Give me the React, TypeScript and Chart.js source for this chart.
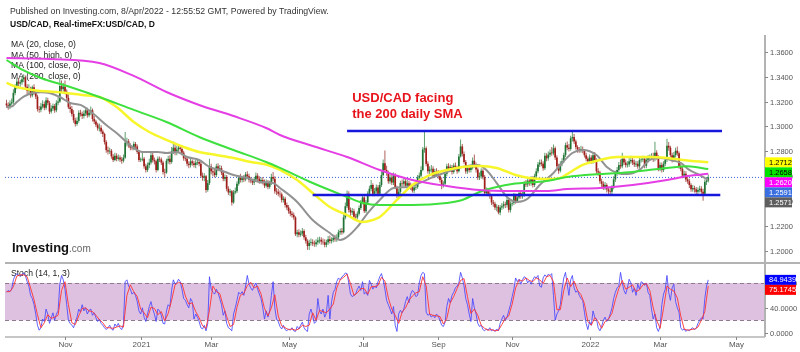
import React, { useEffect, useRef } from "react";
import { Chart, registerables } from "chart.js";

Chart.register(...registerables);

// ---------- DATA (daily sessions, index 0 = 15 Sep 2020) ----------
const opens = [
1.3185,1.3170,1.3160,1.3185,1.3195,1.3270,1.3325,1.3360,1.3345,1.3355,
1.3380,1.3395,1.3320,1.3285,1.3300,1.3250,1.3315,1.3275,1.3240,1.3140,
1.3135,1.3160,1.3180,1.3150,1.3210,1.3190,1.3120,1.3145,1.3165,1.3130,
1.3190,1.3200,1.3325,1.3300,1.3320,1.3280,1.3230,1.3155,1.3140,1.3100,
1.3050,1.3020,1.3045,1.3110,1.3100,1.3085,1.3105,1.3130,1.3090,1.3110,
1.3130,1.3060,1.3040,1.3015,1.2985,1.2990,1.2960,1.2940,1.2875,1.2810,
1.2800,1.2805,1.2760,1.2730,1.2765,1.2740,1.2750,1.2735,1.2725,1.2750,
1.2870,1.2880,1.2850,1.2830,1.2825,1.2860,1.2840,1.2795,1.2730,1.2735,
1.2740,1.2680,1.2650,1.2690,1.2710,1.2770,1.2730,1.2720,1.2650,1.2740,
1.2735,1.2710,1.2635,1.2630,1.2725,1.2740,1.2715,1.2800,1.2830,1.2795,
1.2815,1.2830,1.2820,1.2790,1.2745,1.2740,1.2700,1.2690,1.2720,1.2705,
1.2690,1.2710,1.2715,1.2700,1.2605,1.2590,1.2600,1.2490,1.2545,1.2680,
1.2640,1.2630,1.2610,1.2680,1.2660,1.2665,1.2630,1.2580,1.2595,1.2500,
1.2470,1.2480,1.2390,1.2470,1.2480,1.2540,1.2590,1.2570,1.2585,1.2575,
1.2615,1.2600,1.2570,1.2565,1.2550,1.2575,1.2605,1.2580,1.2560,1.2570,
1.2555,1.2525,1.2555,1.2515,1.2545,1.2595,1.2580,1.2480,1.2475,1.2460,
1.2455,1.2410,1.2420,1.2370,1.2350,1.2320,1.2300,1.2290,1.2270,1.2135,
1.2150,1.2130,1.2140,1.2160,1.2110,1.2080,1.2040,1.2065,1.2070,1.2060,
1.2055,1.2070,1.2085,1.2090,1.2075,1.2070,1.2050,1.2070,1.2095,1.2080,
1.2090,1.2105,1.2095,1.2110,1.2150,1.2160,1.2150,1.2270,1.2360,1.2460,
1.2330,1.2310,1.2320,1.2275,1.2270,1.2300,1.2345,1.2395,1.2430,1.2320,
1.2390,1.2460,1.2500,1.2530,1.2460,1.2480,1.2510,1.2460,1.2530,1.2610,
1.2705,1.2650,1.2630,1.2560,1.2590,1.2550,1.2610,1.2510,1.2450,1.2475,
1.2545,1.2540,1.2560,1.2525,1.2545,1.2525,1.2510,1.2485,1.2510,1.2515,
1.2590,1.2605,1.2650,1.2815,1.2825,1.2700,1.2640,1.2655,1.2660,1.2605,
1.2640,1.2620,1.2600,1.2570,1.2530,1.2540,1.2620,1.2680,1.2660,1.2675,
1.2635,1.2685,1.2670,1.2640,1.2760,1.2840,1.2780,1.2715,1.2640,1.2665,
1.2650,1.2670,1.2725,1.2690,1.2655,1.2590,1.2600,1.2645,1.2595,1.2465,
1.2485,1.2460,1.2440,1.2390,1.2380,1.2350,1.2355,1.2310,1.2350,1.2360,
1.2375,1.2370,1.2410,1.2330,1.2380,1.2385,1.2445,1.2400,1.2430,1.2465,
1.2440,1.2450,1.2540,1.2535,1.2565,1.2545,1.2580,1.2530,1.2600,1.2640,
1.2695,1.2710,1.2700,1.2665,1.2765,1.2745,1.2775,1.2790,1.2785,1.2825,
1.2750,1.2680,1.2645,1.2700,1.2720,1.2770,1.2850,1.2830,1.2820,1.2905,
1.2915,1.2880,1.2835,1.2815,1.2810,1.2820,1.2805,1.2770,1.2740,1.2720,
1.2750,1.2720,1.2770,1.2730,1.2640,1.2630,1.2560,1.2540,1.2510,1.2530,
1.2495,1.2480,1.2475,1.2510,1.2575,1.2625,1.2650,1.2690,1.2680,1.2740,
1.2710,1.2690,1.2695,1.2720,1.2730,1.2710,1.2695,1.2700,1.2680,1.2730,
1.2735,1.2740,1.2685,1.2730,1.2745,1.2750,1.2760,1.2740,1.2790,1.2755,
1.2665,1.2690,1.2650,1.2700,1.2730,1.2845,1.2830,1.2770,1.2730,1.2770,
1.2805,1.2785,1.2680,1.2660,1.2605,1.2620,1.2575,1.2560,1.2530,1.2495,
1.2505,1.2495,1.2475,1.2490,1.2500,1.2475,1.2460,1.2555,1.2565
];

const highs = [
1.3215,1.3195,1.3210,1.3225,1.3300,1.3340,1.3385,1.3390,1.3375,1.3400,
1.3420,1.3410,1.3340,1.3340,1.3320,1.3330,1.3340,1.3290,1.3255,1.3165,
1.3190,1.3210,1.3200,1.3235,1.3230,1.3205,1.3170,1.3185,1.3180,1.3210,
1.3240,1.3390,1.3370,1.3350,1.3370,1.3300,1.3260,1.3180,1.3165,1.3130,
1.3070,1.3075,1.3130,1.3135,1.3120,1.3130,1.3155,1.3150,1.3135,1.3160,
1.3145,1.3085,1.3055,1.3030,1.3025,1.3010,1.2975,1.2950,1.2890,1.2840,
1.2830,1.2820,1.2780,1.2790,1.2785,1.2775,1.2770,1.2755,1.2775,1.2955,
1.2910,1.2900,1.2865,1.2845,1.2880,1.2875,1.2855,1.2810,1.2750,1.2800,
1.2755,1.2700,1.2710,1.2740,1.2795,1.2790,1.2750,1.2735,1.2760,1.2760,
1.2750,1.2725,1.2660,1.2740,1.2765,1.2770,1.2835,1.2880,1.2870,1.2845,
1.2860,1.2850,1.2840,1.2805,1.2770,1.2760,1.2720,1.2740,1.2735,1.2725,
1.2730,1.2740,1.2735,1.2715,1.2630,1.2625,1.2610,1.2570,1.2740,1.2700,
1.2665,1.2660,1.2700,1.2705,1.2690,1.2685,1.2645,1.2615,1.2610,1.2520,
1.2500,1.2490,1.2490,1.2510,1.2560,1.2610,1.2620,1.2605,1.2610,1.2635,
1.2640,1.2620,1.2595,1.2580,1.2595,1.2630,1.2625,1.2600,1.2590,1.2595,
1.2575,1.2575,1.2570,1.2565,1.2620,1.2635,1.2600,1.2505,1.2500,1.2485,
1.2470,1.2440,1.2435,1.2390,1.2370,1.2340,1.2320,1.2310,1.2280,1.2170,
1.2175,1.2165,1.2185,1.2175,1.2130,1.2095,1.2090,1.2100,1.2095,1.2085,
1.2095,1.2110,1.2115,1.2110,1.2100,1.2095,1.2090,1.2120,1.2125,1.2110,
1.2130,1.2130,1.2135,1.2170,1.2180,1.2185,1.2295,1.2390,1.2485,1.2480,
1.2350,1.2345,1.2340,1.2300,1.2320,1.2365,1.2410,1.2450,1.2440,1.2410,
1.2480,1.2525,1.2570,1.2545,1.2505,1.2535,1.2530,1.2555,1.2640,1.2735,
1.2808,1.2685,1.2645,1.2615,1.2610,1.2630,1.2625,1.2525,1.2500,1.2565,
1.2575,1.2585,1.2580,1.2570,1.2565,1.2550,1.2530,1.2530,1.2540,1.2610,
1.2630,1.2680,1.2835,1.2964,1.2840,1.2720,1.2680,1.2690,1.2680,1.2660,
1.2665,1.2650,1.2620,1.2590,1.2560,1.2640,1.2700,1.2705,1.2695,1.2690,
1.2705,1.2710,1.2685,1.2780,1.2896,1.2860,1.2800,1.2730,1.2690,1.2690,
1.2695,1.2750,1.2775,1.2710,1.2670,1.2630,1.2665,1.2660,1.2610,1.2510,
1.2505,1.2480,1.2455,1.2410,1.2395,1.2375,1.2370,1.2370,1.2385,1.2400,
1.2395,1.2430,1.2425,1.2400,1.2410,1.2465,1.2460,1.2455,1.2490,1.2485,
1.2475,1.2560,1.2570,1.2590,1.2585,1.2600,1.2600,1.2620,1.2665,1.2715,
1.2735,1.2735,1.2720,1.2790,1.2785,1.2800,1.2815,1.2835,1.2855,1.2840,
1.2770,1.2700,1.2720,1.2745,1.2790,1.2870,1.2880,1.2860,1.2925,1.2964,
1.2940,1.2895,1.2850,1.2835,1.2845,1.2840,1.2820,1.2790,1.2760,1.2775,
1.2770,1.2795,1.2795,1.2745,1.2665,1.2645,1.2580,1.2560,1.2555,1.2545,
1.2515,1.2505,1.2530,1.2600,1.2645,1.2675,1.2715,1.2735,1.2790,1.2760,
1.2735,1.2720,1.2745,1.2765,1.2750,1.2735,1.2725,1.2720,1.2755,1.2760,
1.2765,1.2755,1.2750,1.2770,1.2775,1.2785,1.2790,1.2878,1.2810,1.2770,
1.2710,1.2710,1.2720,1.2755,1.2901,1.2875,1.2845,1.2790,1.2795,1.2830,
1.2840,1.2800,1.2700,1.2675,1.2645,1.2640,1.2600,1.2580,1.2545,1.2530,
1.2525,1.2515,1.2510,1.2525,1.2520,1.2500,1.2575,1.2595,1.2615
];

const lows = [
1.3150,1.3135,1.3140,1.3170,1.3180,1.3250,1.3300,1.3320,1.3320,1.3335,
1.3355,1.3300,1.3260,1.3260,1.3230,1.3235,1.3255,1.3220,1.3120,1.3110,
1.3115,1.3145,1.3130,1.3135,1.3170,1.3100,1.3105,1.3125,1.3110,1.3115,
1.3170,1.3190,1.3270,1.3280,1.3260,1.3200,1.3140,1.3110,1.3080,1.3030,
1.3000,1.3005,1.3030,1.3080,1.3060,1.3065,1.3085,1.3070,1.3075,1.3090,
1.3040,1.3020,1.2995,1.2965,1.2960,1.2940,1.2915,1.2855,1.2790,1.2775,
1.2780,1.2740,1.2715,1.2720,1.2720,1.2725,1.2715,1.2700,1.2710,1.2740,
1.2840,1.2830,1.2810,1.2810,1.2810,1.2820,1.2780,1.2715,1.2715,1.2720,
1.2660,1.2630,1.2635,1.2665,1.2695,1.2710,1.2695,1.2630,1.2640,1.2715,
1.2690,1.2615,1.2590,1.2620,1.2700,1.2695,1.2700,1.2780,1.2770,1.2770,
1.2795,1.2800,1.2770,1.2725,1.2720,1.2680,1.2665,1.2670,1.2685,1.2670,
1.2665,1.2690,1.2680,1.2590,1.2565,1.2560,1.2468,1.2475,1.2530,1.2615,
1.2600,1.2590,1.2595,1.2640,1.2640,1.2610,1.2560,1.2560,1.2480,1.2450,
1.2440,1.2365,1.2380,1.2455,1.2465,1.2525,1.2550,1.2550,1.2555,1.2560,
1.2580,1.2550,1.2545,1.2530,1.2530,1.2555,1.2560,1.2540,1.2540,1.2535,
1.2505,1.2510,1.2495,1.2500,1.2530,1.2560,1.2460,1.2450,1.2440,1.2430,
1.2390,1.2390,1.2350,1.2330,1.2300,1.2280,1.2270,1.2250,1.2120,1.2110,
1.2110,1.2115,1.2120,1.2090,1.2060,1.2010,1.2008,1.2045,1.2040,1.2035,
1.2035,1.2050,1.2060,1.2050,1.2050,1.2030,1.2030,1.2050,1.2060,1.2060,
1.2070,1.2075,1.2075,1.2095,1.2130,1.2130,1.2140,1.2255,1.2345,1.2310,
1.2280,1.2290,1.2255,1.2250,1.2255,1.2285,1.2330,1.2375,1.2305,1.2305,
1.2375,1.2440,1.2480,1.2440,1.2440,1.2460,1.2440,1.2450,1.2515,1.2600,
1.2630,1.2605,1.2540,1.2540,1.2530,1.2530,1.2495,1.2425,1.2420,1.2460,
1.2520,1.2520,1.2505,1.2500,1.2505,1.2490,1.2470,1.2465,1.2490,1.2500,
1.2570,1.2590,1.2640,1.2790,1.2680,1.2620,1.2610,1.2630,1.2585,1.2590,
1.2600,1.2580,1.2550,1.2495,1.2510,1.2525,1.2600,1.2640,1.2640,1.2615,
1.2620,1.2650,1.2620,1.2630,1.2750,1.2760,1.2700,1.2620,1.2620,1.2630,
1.2630,1.2655,1.2670,1.2630,1.2570,1.2570,1.2580,1.2575,1.2450,1.2445,
1.2440,1.2420,1.2370,1.2355,1.2330,1.2320,1.2295,1.2288,1.2330,1.2340,
1.2345,1.2350,1.2310,1.2310,1.2360,1.2370,1.2380,1.2385,1.2415,1.2420,
1.2420,1.2435,1.2515,1.2515,1.2525,1.2525,1.2510,1.2515,1.2585,1.2625,
1.2675,1.2680,1.2645,1.2650,1.2720,1.2725,1.2755,1.2765,1.2770,1.2730,
1.2660,1.2620,1.2630,1.2680,1.2705,1.2755,1.2810,1.2800,1.2805,1.2880,
1.2860,1.2815,1.2790,1.2790,1.2790,1.2785,1.2750,1.2720,1.2700,1.2700,
1.2700,1.2700,1.2710,1.2620,1.2605,1.2540,1.2515,1.2490,1.2490,1.2470,
1.2450,1.2450,1.2455,1.2495,1.2555,1.2605,1.2630,1.2660,1.2665,1.2690,
1.2670,1.2670,1.2675,1.2700,1.2690,1.2675,1.2675,1.2660,1.2660,1.2710,
1.2715,1.2665,1.2665,1.2710,1.2725,1.2730,1.2715,1.2720,1.2735,1.2640,
1.2640,1.2630,1.2635,1.2680,1.2715,1.2805,1.2750,1.2710,1.2715,1.2750,
1.2765,1.2660,1.2640,1.2585,1.2585,1.2555,1.2540,1.2505,1.2475,1.2475,
1.2470,1.2455,1.2455,1.2470,1.2455,1.2403,1.2445,1.2530,1.2550
];

const closes = [
1.3170,1.3160,1.3185,1.3195,1.3270,1.3325,1.3360,1.3345,1.3355,1.3380,
1.3395,1.3320,1.3285,1.3300,1.3250,1.3315,1.3275,1.3240,1.3140,1.3135,
1.3160,1.3180,1.3150,1.3210,1.3190,1.3120,1.3145,1.3165,1.3130,1.3190,
1.3200,1.3325,1.3300,1.3320,1.3280,1.3230,1.3155,1.3140,1.3100,1.3050,
1.3020,1.3045,1.3110,1.3100,1.3085,1.3105,1.3130,1.3090,1.3110,1.3130,
1.3060,1.3040,1.3015,1.2985,1.2990,1.2960,1.2940,1.2875,1.2810,1.2800,
1.2805,1.2760,1.2730,1.2765,1.2740,1.2750,1.2735,1.2725,1.2750,1.2870,
1.2880,1.2850,1.2830,1.2825,1.2860,1.2840,1.2795,1.2730,1.2735,1.2740,
1.2680,1.2650,1.2690,1.2710,1.2770,1.2730,1.2720,1.2650,1.2740,1.2735,
1.2710,1.2635,1.2630,1.2725,1.2740,1.2715,1.2800,1.2830,1.2795,1.2815,
1.2830,1.2820,1.2790,1.2745,1.2740,1.2700,1.2690,1.2720,1.2705,1.2690,
1.2710,1.2715,1.2700,1.2605,1.2590,1.2600,1.2490,1.2545,1.2680,1.2640,
1.2630,1.2610,1.2680,1.2660,1.2665,1.2630,1.2580,1.2595,1.2500,1.2470,
1.2480,1.2390,1.2470,1.2480,1.2540,1.2590,1.2570,1.2585,1.2575,1.2615,
1.2600,1.2570,1.2565,1.2550,1.2575,1.2605,1.2580,1.2560,1.2570,1.2555,
1.2525,1.2555,1.2515,1.2545,1.2595,1.2580,1.2480,1.2475,1.2460,1.2455,
1.2410,1.2420,1.2370,1.2350,1.2320,1.2300,1.2290,1.2270,1.2135,1.2150,
1.2130,1.2140,1.2160,1.2110,1.2080,1.2040,1.2065,1.2070,1.2060,1.2055,
1.2070,1.2085,1.2090,1.2075,1.2070,1.2050,1.2070,1.2095,1.2080,1.2090,
1.2105,1.2095,1.2110,1.2150,1.2160,1.2150,1.2270,1.2360,1.2460,1.2330,
1.2310,1.2320,1.2275,1.2270,1.2300,1.2345,1.2395,1.2430,1.2320,1.2390,
1.2460,1.2500,1.2530,1.2460,1.2480,1.2510,1.2460,1.2530,1.2610,1.2705,
1.2650,1.2630,1.2560,1.2590,1.2550,1.2610,1.2510,1.2450,1.2475,1.2545,
1.2540,1.2560,1.2525,1.2545,1.2525,1.2510,1.2485,1.2510,1.2515,1.2590,
1.2605,1.2650,1.2815,1.2825,1.2700,1.2640,1.2655,1.2660,1.2605,1.2640,
1.2620,1.2600,1.2570,1.2530,1.2540,1.2620,1.2680,1.2660,1.2675,1.2635,
1.2685,1.2670,1.2640,1.2760,1.2840,1.2780,1.2715,1.2640,1.2665,1.2650,
1.2670,1.2725,1.2690,1.2655,1.2590,1.2600,1.2645,1.2595,1.2465,1.2485,
1.2460,1.2440,1.2390,1.2380,1.2350,1.2355,1.2310,1.2350,1.2360,1.2375,
1.2370,1.2410,1.2330,1.2380,1.2385,1.2445,1.2400,1.2430,1.2465,1.2440,
1.2450,1.2540,1.2535,1.2565,1.2545,1.2580,1.2530,1.2600,1.2640,1.2695,
1.2710,1.2700,1.2665,1.2765,1.2745,1.2775,1.2790,1.2785,1.2825,1.2750,
1.2680,1.2645,1.2700,1.2720,1.2770,1.2850,1.2830,1.2820,1.2905,1.2915,
1.2880,1.2835,1.2815,1.2810,1.2820,1.2805,1.2770,1.2740,1.2720,1.2750,
1.2720,1.2770,1.2730,1.2640,1.2630,1.2560,1.2540,1.2510,1.2530,1.2495,
1.2480,1.2475,1.2510,1.2575,1.2625,1.2650,1.2690,1.2680,1.2740,1.2710,
1.2690,1.2695,1.2720,1.2730,1.2710,1.2695,1.2700,1.2680,1.2730,1.2735,
1.2740,1.2685,1.2730,1.2745,1.2750,1.2760,1.2740,1.2790,1.2755,1.2665,
1.2690,1.2650,1.2700,1.2730,1.2845,1.2830,1.2770,1.2730,1.2770,1.2805,
1.2785,1.2680,1.2660,1.2605,1.2620,1.2575,1.2560,1.2530,1.2495,1.2505,
1.2495,1.2475,1.2490,1.2500,1.2475,1.2460,1.2555,1.2565,1.2591
];

// moving averages as [session, value]
const ma20: [number, number][] = [
[0,1.3157],[3,1.3160],[6,1.3197],[10,1.3240],[15,1.3269],[20,1.3275],[25,1.3269],[31,1.3237],[37,1.3189],[43,1.3173],
[50,1.3108],[58,1.3012],[64,1.2948],[74,1.2827],[79,1.2795],[88,1.2795],[93,1.2787],[99,1.2795],[105,1.2755],[112,1.2731],
[118,1.2675],[124,1.2651],[132,1.2610],[140,1.2586],[147,1.2554],[155,1.2546],[159,1.2506],[169,1.2394],[178,1.2249],[188,1.2145],
[194,1.2088],[198,1.2112],[204,1.2193],[210,1.2305],[217,1.2410],[225,1.2506],[233,1.2514],[240,1.2546],[248,1.2594],[256,1.2635],
[265,1.2675],[274,1.2691],[279,1.2651],[285,1.2546],[291,1.2434],[297,1.2394],[303,1.2420],[310,1.2530],[318,1.2627],[322,1.2691],
[329,1.2787],[335,1.2811],[343,1.2771],[349,1.2675],[355,1.2627],[361,1.2618],[368,1.2651],[374,1.2731],[380,1.2747],[386,1.2731],
[392,1.2707],[397,1.2651],[403,1.2610],[408,1.2571]
];
const ma50High: [number, number][] = [
[0,1.3350],[6,1.3317],[15,1.3293],[35,1.3269],[44,1.3253],[54,1.3237],[64,1.3157],[74,1.3036],[83,1.2956],[93,1.2892],
[103,1.2835],[112,1.2795],[122,1.2771],[132,1.2747],[142,1.2715],[152,1.2691],[159,1.2651],[169,1.2570],[178,1.2466],[188,1.2353],
[198,1.2289],[207,1.2233],[213,1.2249],[217,1.2273],[227,1.2410],[236,1.2530],[246,1.2610],[256,1.2651],[265,1.2675],[275,1.2683],
[285,1.2667],[296,1.2610],[304,1.2586],[314,1.2578],[322,1.2586],[326,1.2618],[335,1.2691],[345,1.2731],[355,1.2755],[364,1.2755],
[374,1.2755],[384,1.2747],[393,1.2731],[408,1.2712]
];
const ma100: [number, number][] = [
[0,1.3534],[10,1.3450],[20,1.3390],[37,1.3317],[54,1.3237],[74,1.3133],[93,1.3036],[112,1.2916],[132,1.2811],[151,1.2715],
[159,1.2667],[178,1.2546],[198,1.2434],[207,1.2386],[217,1.2369],[236,1.2369],[256,1.2386],[265,1.2410],[275,1.2474],[285,1.2514],
[294,1.2538],[314,1.2562],[326,1.2594],[345,1.2618],[364,1.2635],[384,1.2667],[396,1.2680],[408,1.2658]
];
const ma200: [number, number][] = [
[0,1.3550],[25,1.3542],[54,1.3510],[74,1.3406],[93,1.3277],[112,1.3173],[132,1.3084],[151,1.2988],[159,1.2932],[178,1.2843],
[198,1.2755],[217,1.2651],[236,1.2570],[256,1.2522],[275,1.2490],[294,1.2482],[314,1.2482],[326,1.2498],[345,1.2506],[364,1.2530],
[384,1.2570],[396,1.2602],[408,1.2620]
];

// Stochastic (14,1,3): %K per session, %D every 2nd session
const stochK = [
65,68,66,70,85,92,95,93,90,94, 96,92,82,75,60,55,45,30,12,4,
8,22,18,38,30,15,24,32,20,30, 35,78,92,85,70,45,20,15,12,8,
18,25,38,33,45,35,40,30,36,38, 28,32,24,18,22,15,12,8,5,8,
12,6,4,14,10,15,8,5,14,82, 85,75,70,62,65,60,50,35,30,40,
25,18,30,42,50,38,30,18,38,35, 28,15,14,35,45,42,68,85,78,80,
86,82,70,55,52,45,40,55,50,22, 30,25,18,8,6,12,3,15,90,70,
65,62,70,64,55,45,28,35,15,8, 6,3,30,40,52,65,62,66,60,75,
92,78,72,68,75,80,70,62,55,40, 22,35,25,35,60,82,40,22,18,10,
6,12,5,3,6,4,8,3,2,10, 6,12,17,8,4,2,30,38,28,15,
18,55,35,30,38,25,32,60,22,50, 65,70,82,88,85,90,92,96,95,80,
62,58,60,62,70,75,68,82,62,65, 60,84,78,70,75,72,82,90,95,85,
70,52,45,38,30,42,12,2,30,36, 32,38,50,58,48,62,68,65,58,60,
80,92,97,95,33,28,30,25,28,24, 30,27,20,12,10,17,42,55,48,60,
65,72,75,80,97,88,75,55,45,30, 18,55,40,30,15,10,12,5,3,6,
4,8,3,5,2,6,3,15,22,28, 20,25,35,45,58,70,88,82,86,78,
85,90,88,80,84,78,85,90,88,92, 75,73,88,93,90,94,92,95,60,20,
30,35,45,70,88,97,78,60,85,92, 72,65,68,60,55,52,33,15,5,18,
12,35,25,22,8,3,10,20,25,18, 22,30,40,55,65,72,75,97,80,68,
62,72,86,80,65,72,60,78,70,82, 80,76,80,65,60,38,22,30,8,2,
10,45,62,70,92,65,52,72,78,50, 40,33,8,4,6,2,5,3,6,8,
5,7,15,20,24,22,55,75,84.9439
];
const stochD = [
66,66,74,91,93,93,90,72,53,29, 8,16,29,23,25,28,68,82,45,16,
13,27,39,40,35,34,28,21,16,8, 8,7,9,11,9,60,77,66,58,38,
32,24,41,39,29,34,19,31,52,77, 81,79,59,46,48,34,24,11,7,36,
75,66,63,43,26,10,13,41,60,63, 76,81,72,75,62,39,27,40,61,27,
11,8,5,6,4,6,12,10,12,32, 20,36,34,32,38,46,72,85,89,94,
79,60,64,71,71,62,74,74,76,89, 83,56,38,28,15,33,40,52,59,64,
66,90,75,30,28,27,26,14,23,48, 58,71,84,87,58,31,38,28,12,7,
4,5,3,4,13,23,27,46,72,85, 83,88,84,82,88,85,79,90,92,82,
37,37,68,88,74,83,68,61,47,18, 12,24,18,7,18,22,31,53,71,84,
70,73,77,66,69,77,79,68,40,20, 7,39,75,70,67,56,27,6,4,5,
6,9,20,34,75.1745
];
const stochDStep = 2;

// horizontal drawings: [fromSession, toSession, price]
const resistanceLine = [198, 416, 1.2964];
const supportLine = [178, 415, 1.2450];
const lastClose = 1.2591;

// axes
const priceTicks = [1.20, 1.22, 1.24, 1.26, 1.28, 1.30, 1.32, 1.34, 1.36];
const stochTicks = [0, 40, 80];
const stochBand = [20, 80];
const monthTickSessions = [34, 78, 119, 164, 207, 251, 294, 339, 380, 424];
const monthLabels = ["Nov", "2021", "Mar", "May", "Jul", "Sep", "Nov", "2022", "Mar", "May"];

const priceBadges = [
  { value: 1.2712, bg: "#ffff00", fg: "#000000" },
  { value: 1.2658, bg: "#00e400", fg: "#000000" },
  { value: 1.2620, bg: "#ff00ff", fg: "#ffffff" },
  { value: 1.2591, bg: "#3a6fe0", fg: "#ffffff" },
  { value: 1.2571, bg: "#5e5e5e", fg: "#ffffff" },
];
const stochBadges = [
  { value: 84.9439, bg: "#0000ff", fg: "#ffffff" },
  { value: 75.1745, bg: "#ff0000", fg: "#ffffff" },
];

const headerLine = "Published on Investing.com, 8/Apr/2022 - 12:55:52 GMT, Powered by TradingView.";
const titleLine = "USD/CAD, Real-timeFX:USD/CAD, D";
const maLegend = ["MA (20, close, 0)", "MA (50, high, 0)", "MA (100, close, 0)", "MA (200, close, 0)"];
const stochLegend = "Stoch (14, 1, 3)";
const noteLines = ["USD/CAD facing", "the 200 daily SMA"];
const noteAnchor = { session: 201, prices: [1.3197, 1.3072] };

// ---------- CHART ----------
const FONT = '"Liberation Sans", Arial, Helvetica, sans-serif';
const UP = "#1f7334";
const DOWN = "#a01e1a";
const UP_WICK = "#5f9f6e";
const DOWN_WICK = "#b0625e";

const X_MIN = -0.872;
const X_MAX = 440.99;
const PRICE_MIN = 1.13092;
const PRICE_MAX = 1.37349;
const STOCH_MIN = -6.91;
const STOCH_MAX = 478.6;
const PANEL_SPLIT = 112.5; // stoch-scale value where the price pane ends

const overlay = {
  id: "overlay",
  beforeDraw(chart: any) {
    const ctx = chart.ctx;
    ctx.save();
    ctx.fillStyle = "#ffffff";
    ctx.fillRect(0, 0, chart.width, chart.height);
    ctx.restore();
  },
  beforeDatasetsDraw(chart: any) {
    const { ctx, chartArea } = chart;
    const ys = chart.scales.y2;
    const top = ys.getPixelForValue(stochBand[1]);
    const bot = ys.getPixelForValue(stochBand[0]);
    ctx.save();
    ctx.fillStyle = "rgb(222,193,224)";
    ctx.fillRect(chartArea.left, top, chartArea.right - chartArea.left, bot - top);
    ctx.strokeStyle = "#8e7c8e";
    ctx.lineWidth = 1;
    ctx.setLineDash([4, 3]);
    [top, bot].forEach((y) => {
      const yy = Math.round(y) + 0.5;
      ctx.beginPath();
      ctx.moveTo(chartArea.left, yy);
      ctx.lineTo(chartArea.right, yy);
      ctx.stroke();
    });
    ctx.setLineDash([]);

    ctx.textAlign = "left";
    ctx.textBaseline = "alphabetic";
    ctx.fillStyle = "#333333";
    ctx.font = `8.7px ${FONT}`;
    ctx.fillText(headerLine, 10, 14);
    ctx.fillStyle = "#111111";
    ctx.font = `bold 8.5px ${FONT}`;
    ctx.fillText(titleLine, 10, 27);
    ctx.font = `8.6px ${FONT}`;
    ctx.fillStyle = "#222222";
    maLegend.forEach((t, i) => ctx.fillText(t, 11, 47 + i * 10.5));
    ctx.fillText(stochLegend, 11, 276);

    ctx.font = `bold 13px ${FONT}`;
    ctx.fillStyle = "#111111";
    ctx.fillText("Investing", 12, 252);
    const w = ctx.measureText("Investing").width;
    ctx.font = `10px ${FONT}`;
    ctx.fillStyle = "#666666";
    ctx.fillText(".com", 12 + w, 252);
    ctx.restore();
  },
  afterDatasetsDraw(chart: any) {
    const { ctx, chartArea } = chart;
    const xs = chart.scales.x;
    const yp = chart.scales.y;
    const ys = chart.scales.y2;
    ctx.save();

    // frame lines
    ctx.strokeStyle = "#b3b3b3";
    ctx.lineWidth = 2;
    const axisX = chartArea.right;
    ctx.beginPath();
    ctx.moveTo(axisX, chartArea.top);
    ctx.lineTo(axisX, chartArea.bottom);
    ctx.stroke();
    const sepY = Math.round(ys.getPixelForValue(PANEL_SPLIT));
    ctx.beginPath();
    ctx.moveTo(chartArea.left, sepY);
    ctx.lineTo(chart.width, sepY);
    ctx.stroke();
    ctx.lineWidth = 1.5;
    ctx.beginPath();
    ctx.moveTo(chartArea.left, chartArea.bottom);
    ctx.lineTo(axisX, chartArea.bottom);
    ctx.stroke();

    // y ticks
    ctx.lineWidth = 1;
    ctx.strokeStyle = "#888888";
    ctx.fillStyle = "#555555";
    ctx.font = `7.5px ${FONT}`;
    ctx.textAlign = "left";
    ctx.textBaseline = "middle";
    priceTicks.forEach((v) => {
      const y = Math.round(yp.getPixelForValue(v)) + 0.5;
      ctx.beginPath();
      ctx.moveTo(axisX, y);
      ctx.lineTo(axisX + 3, y);
      ctx.stroke();
      ctx.fillText(v.toFixed(4), axisX + 5, y);
    });
    stochTicks.forEach((v) => {
      const y = Math.round(ys.getPixelForValue(v)) + 0.5;
      ctx.beginPath();
      ctx.moveTo(axisX, y);
      ctx.lineTo(axisX + 3, y);
      ctx.stroke();
      ctx.fillText(v.toFixed(4), axisX + 5, y);
    });

    // badges
    const drawBadges = (list: any[], scale: any, width: number) => {
      let prev = -Infinity;
      list.forEach((b) => {
        let y = scale.getPixelForValue(b.value);
        y = Math.max(y, prev + 10);
        prev = y;
        ctx.fillStyle = b.bg;
        ctx.fillRect(axisX, y - 5, width, 10);
        ctx.fillStyle = b.fg;
        ctx.fillText(b.value.toFixed(4), axisX + 4, y + 0.5);
      });
    };
    drawBadges(priceBadges, yp, 27);
    drawBadges(stochBadges, ys, 31);

    // x ticks
    ctx.strokeStyle = "#888888";
    ctx.fillStyle = "#555555";
    ctx.font = `8px ${FONT}`;
    ctx.textAlign = "center";
    monthTickSessions.forEach((s, i) => {
      const x = Math.round(xs.getPixelForValue(s)) + 0.5;
      ctx.beginPath();
      ctx.moveTo(x, chartArea.bottom);
      ctx.lineTo(x, chartArea.bottom + 3);
      ctx.stroke();
      ctx.fillText(monthLabels[i], x, chartArea.bottom + 8);
    });

    // annotation
    ctx.textAlign = "left";
    ctx.textBaseline = "alphabetic";
    ctx.fillStyle = "#e8141b";
    ctx.font = `bold 13px ${FONT}`;
    const nx = xs.getPixelForValue(noteAnchor.session);
    noteLines.forEach((t, i) => ctx.fillText(t, nx, yp.getPixelForValue(noteAnchor.prices[i])));
    ctx.restore();
  },
};

const maLine = (pts: [number, number][], color: string, width: number) => ({
  type: "line" as const,
  data: pts.map(([x, y]) => ({ x, y })),
  borderColor: color,
  borderWidth: width,
  pointRadius: 0,
  tension: 0.4,
  cubicInterpolationMode: "monotone" as const,
  yAxisID: "y",
  order: 1,
});

const hLine = (seg: number[], color: string, width: number, order: number, dash: number[] = []) => ({
  type: "line" as const,
  data: [
    { x: seg[0], y: seg[2] },
    { x: seg[1], y: seg[2] },
  ],
  borderColor: color,
  borderWidth: width,
  borderDash: dash,
  pointRadius: 0,
  yAxisID: "y",
  order,
});

export default function App() {
  const ref = useRef<HTMLCanvasElement>(null);
  useEffect(() => {
    if (!ref.current) return;
    const bodies = closes.map((c, i) => ({ x: i, y: [opens[i], c] }));
    const wicks = closes.map((c, i) => ({ x: i, y: [lows[i], highs[i]] }));
    const bodyColors = closes.map((c, i) => (c >= opens[i] ? UP : DOWN));
    const wickColors = closes.map((c, i) => (c >= opens[i] ? UP_WICK : DOWN_WICK));

    const chart = new Chart(ref.current, {
      type: "bar",
      data: {
        datasets: [
          hLine(resistanceLine, "#1616dc", 2.5, 0),
          hLine(supportLine, "#1616dc", 2.5, 0),
          maLine(ma200, "#e43ee4", 2),
          maLine(ma100, "#3ee03e", 2),
          maLine(ma50High, "#f6f62a", 2.5),
          maLine(ma20, "#929292", 2),
          {
            type: "bar",
            data: bodies as any,
            backgroundColor: bodyColors,
            barThickness: 1.7,
            grouped: false,
            inflateAmount: 0,
            borderWidth: 0,
            yAxisID: "y",
            order: 2,
          } as any,
          {
            type: "bar",
            data: wicks as any,
            backgroundColor: wickColors,
            barThickness: 1,
            grouped: false,
            inflateAmount: 0,
            borderWidth: 0,
            yAxisID: "y",
            order: 3,
          } as any,
          hLine([X_MIN, X_MAX, lastClose], "#3a64d8", 1, 4, [1, 2]),
          {
            type: "line",
            data: stochD.map((v, j) => ({ x: j * stochDStep, y: v })),
            borderColor: "rgba(255,50,50,0.9)",
            borderWidth: 1,
            pointRadius: 0,
            yAxisID: "y2",
            order: 1,
          },
          {
            type: "line",
            data: stochK.map((v, i) => ({ x: i, y: v })),
            borderColor: "rgba(70,70,255,0.85)",
            borderWidth: 1,
            pointRadius: 0,
            yAxisID: "y2",
            order: 2,
          },
        ],
      },
      options: {
        responsive: false,
        animation: false,
        devicePixelRatio: 1,
        events: [],
        layout: { padding: { left: 5, right: 35, top: 35, bottom: 15 } },
        plugins: { legend: { display: false }, tooltip: { enabled: false } },
        scales: {
          x: { type: "linear", min: X_MIN, max: X_MAX, display: false, offset: false },
          y: { type: "linear", min: PRICE_MIN, max: PRICE_MAX, display: false, beginAtZero: false },
          y2: { type: "linear", min: STOCH_MIN, max: STOCH_MAX, display: false, beginAtZero: false },
        },
      } as any,
      plugins: [overlay],
    });
    return () => chart.destroy();
  }, []);

  return (
    <div style={{ position: "fixed", left: 0, top: 0, width: 800, height: 352, background: "#fff" }}>
      <canvas ref={ref} width={800} height={352} style={{ display: "block", width: 800, height: 352 }} />
    </div>
  );
}
